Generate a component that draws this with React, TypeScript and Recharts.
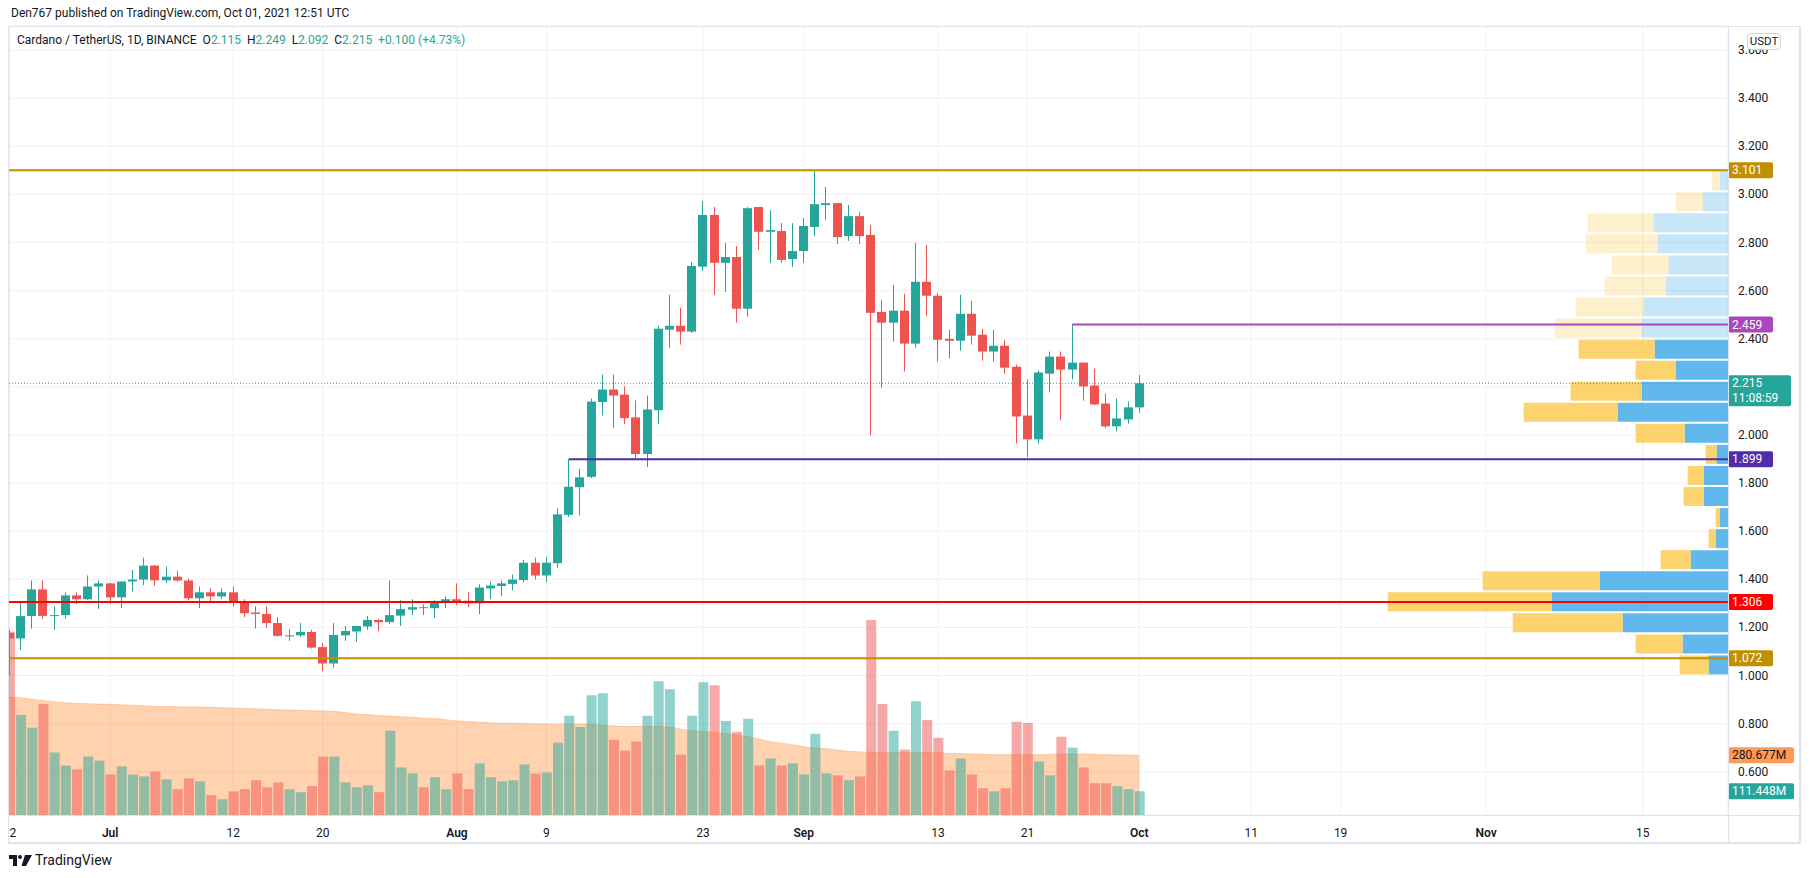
import React from 'react';
import { ComposedChart, Bar, Area, XAxis, YAxis, CartesianGrid, ReferenceLine, Cell } from 'recharts';

const FONT = "Roboto, 'Noto Sans', Arial, sans-serif";
const TEXT = '#131722';
const UP = '#26a69a';
const DOWN = '#ef5350';

// ---- Daily candles Jun 22 .. Oct 1, 2021 (day index 0 = Jul 1) ----
const firstDay = -9;
const open = [1.176, 1.154, 1.247, 1.358, 1.248, 1.251, 1.333, 1.317, 1.370,
  1.383, 1.325, 1.391, 1.399, 1.457, 1.396, 1.411, 1.395, 1.321, 1.346, 1.329, 1.346, 1.306, 1.262, 1.256, 1.218, 1.165, 1.167, 1.181, 1.118, 1.050, 1.167, 1.183, 1.204, 1.231, 1.222, 1.249, 1.274, 1.284, 1.280, 1.307,
  1.317, 1.311, 1.300, 1.362, 1.372, 1.381, 1.397, 1.469, 1.416, 1.467, 1.668, 1.783, 1.826, 2.137, 2.189, 2.168, 2.073, 1.921, 2.103, 2.438, 2.454, 2.430, 2.700, 2.915, 2.716, 2.740, 2.525, 2.948, 2.845, 2.848, 2.732,
  2.765, 2.865, 2.956, 2.964, 2.827, 2.910, 2.832, 2.512, 2.467, 2.517, 2.380, 2.637, 2.579, 2.400, 2.392, 2.504, 2.417, 2.347, 2.371, 2.284, 2.081, 1.982, 2.255, 2.326, 2.272, 2.301, 2.206, 2.131, 2.036, 2.065,
  2.115];
const high = [1.190, 1.309, 1.395, 1.395, 1.288, 1.346, 1.346, 1.416, 1.395,
  1.385, 1.392, 1.440, 1.490, 1.459, 1.453, 1.436, 1.403, 1.370, 1.362, 1.362, 1.370, 1.317, 1.288, 1.288, 1.243, 1.192, 1.218, 1.190, 1.136, 1.218, 1.206, 1.206, 1.247, 1.235, 1.395, 1.313, 1.317, 1.296, 1.313, 1.329,
  1.383, 1.346, 1.379, 1.391, 1.395, 1.420, 1.481, 1.490, 1.494, 1.695, 1.899, 1.859, 2.152, 2.251, 2.251, 2.202, 2.144, 2.164, 2.454, 2.583, 2.529, 2.720, 2.973, 2.948, 2.798, 2.786, 2.948, 2.948, 2.935, 2.881, 2.881,
  2.902, 3.101, 3.031, 2.964, 2.956, 2.927, 2.873, 2.562, 2.624, 2.587, 2.798, 2.790, 2.591, 2.438, 2.583, 2.558, 2.442, 2.438, 2.396, 2.293, 2.231, 2.268, 2.347, 2.347, 2.459, 2.301, 2.276, 2.173, 2.152, 2.139,
  2.249];
const low = [1.000, 1.106, 1.195, 1.236, 1.190, 1.236, 1.298, 1.313, 1.277,
  1.298, 1.280, 1.350, 1.376, 1.372, 1.384, 1.391, 1.313, 1.280, 1.309, 1.317, 1.287, 1.243, 1.195, 1.198, 1.161, 1.144, 1.161, 1.112, 1.018, 1.033, 1.144, 1.140, 1.190, 1.185, 1.214, 1.206, 1.251, 1.251, 1.239, 1.280,
  1.292, 1.284, 1.255, 1.317, 1.329, 1.354, 1.387, 1.399, 1.387, 1.448, 1.658, 1.666, 1.821, 2.081, 2.029, 2.045, 1.902, 1.867, 2.045, 2.363, 2.376, 2.425, 2.682, 2.583, 2.595, 2.467, 2.492, 2.769, 2.716, 2.716, 2.699,
  2.716, 2.827, 2.894, 2.794, 2.807, 2.794, 1.998, 2.197, 2.388, 2.264, 2.363, 2.496, 2.305, 2.318, 2.351, 2.376, 2.309, 2.305, 2.255, 1.965, 1.907, 1.965, 2.177, 2.061, 2.231, 2.143, 2.123, 2.028, 2.015, 2.048,
  2.092];
const close = [1.154, 1.247, 1.358, 1.248, 1.251, 1.333, 1.317, 1.370, 1.383,
  1.325, 1.391, 1.399, 1.457, 1.396, 1.411, 1.395, 1.321, 1.346, 1.329, 1.346, 1.306, 1.259, 1.256, 1.218, 1.165, 1.167, 1.181, 1.116, 1.050, 1.169, 1.185, 1.206, 1.231, 1.222, 1.251, 1.276, 1.284, 1.280, 1.309, 1.317,
  1.309, 1.300, 1.366, 1.374, 1.383, 1.399, 1.469, 1.416, 1.469, 1.670, 1.785, 1.824, 2.139, 2.189, 2.164, 2.070, 1.921, 2.106, 2.442, 2.454, 2.430, 2.703, 2.915, 2.716, 2.740, 2.525, 2.943, 2.845, 2.852, 2.728, 2.765,
  2.869, 2.960, 2.964, 2.823, 2.910, 2.827, 2.508, 2.467, 2.517, 2.380, 2.637, 2.579, 2.396, 2.392, 2.504, 2.413, 2.347, 2.371, 2.280, 2.077, 1.982, 2.260, 2.326, 2.272, 2.301, 2.202, 2.127, 2.036, 2.069, 2.115,
  2.215];
// volume in millions of ADA
const volume = [859, 469, 409, 520, 293, 232, 214, 274, 255,
  190, 228, 190, 181, 204, 167, 121, 172, 158, 93, 74, 111, 121, 163, 130, 153, 121, 107, 135, 274, 274, 153, 130, 139, 107, 395, 223, 195, 130, 177, 121,
  195, 121, 242, 177, 158, 163, 237, 195, 200, 339, 465, 413, 562, 571, 353, 302, 344, 465, 627, 590, 283, 465, 622, 608, 441, 390, 451, 232, 265, 232, 242,
  190, 381, 195, 186, 163, 181, 915, 520, 395, 307, 534, 446, 362, 209, 265, 190, 125, 111, 125, 437, 432, 251, 186, 367, 316, 223, 149, 149, 135, 121,
  111.448];
const volumeMA = [553, 550, 543, 537, 531, 526, 523, 522, 520,
  519, 517, 515, 512, 509, 509, 508, 506, 506, 505, 503, 502, 500, 498, 495, 494, 492, 491, 489, 488, 486, 481, 474, 471, 467, 464, 461, 458, 454, 452, 447,
  441, 438, 435, 432, 430, 429, 429, 427, 427, 426, 426, 427, 426, 421, 418, 416, 416, 415, 415, 413, 402, 396, 392, 387, 382, 376, 367, 356, 345, 337, 330,
  320, 314, 311, 305, 299, 296, 294, 294, 294, 294, 294, 293, 293, 289, 288, 286, 285, 283, 283, 283, 283, 283, 285, 285, 286, 286, 285, 283, 282, 281,
  280.677];

// ---- Volume profile (visible range), 24 rows, bottom to top ----
const vpLow = 1.0;
const vpHigh = 3.101;
const vpUp = [58, 136, 316, 529, 385, 112, 37, 25, 73, 73, 34, 130, 331, 259, 157, 220, 259, 254, 187, 178, 211, 223, 76, 25];
const vpDown = [87, 141, 330, 492, 351, 90, 21, 12, 60, 48, 33, 147, 282, 213, 120, 228, 261, 203, 183, 171, 216, 198, 81, 24];
const vpValueAreaTop = 15; // rows 0..15 inside the value area

// ---- Axes ----
const dateTicks = [-9, 0, 11, 19, 31, 39, 53, 62, 74, 82, 92, 102, 110, 123, 137];
const dateTickLabels = ['22', 'Jul', '12', '20', 'Aug', '9', '23', 'Sep', '13', '21', 'Oct', '11', '19', 'Nov', '15'];
const monthLabels = ['Jul', 'Aug', 'Sep', 'Oct', 'Nov'];
const priceTicks = [0.6, 0.8, 1.0, 1.2, 1.4, 1.6, 1.8, 2.0, 2.2, 2.4, 2.6, 2.8, 3.0, 3.2, 3.4, 3.6];
const xDomain: [number, number] = [-9.047, 144.63];
const priceDomain: [number, number] = [0.42, 3.7006];
const volDomain: [number, number] = [0, 3700];
const vpDomain: [number, number] = [0, 5157];

// ---- Horizontal levels ----
const levelTop = 3.101;
const levelResistance = 2.459;
const levelResistanceFrom = 86;
const levelSupport = 1.899;
const levelSupportFrom = 41;
const levelRed = 1.306;
const levelBottom = 1.072;
const lastPrice = 2.215;
const lastVolMA = 280.677;
const lastVolume = 111.448;

const candles = open.map((o, i) => ({
  t: i + firstDay,
  open: o,
  high: high[i],
  low: low[i],
  close: close[i],
  vol: volume[i],
  ma: volumeMA[i],
  up: close[i] >= o,
}));

const vpStep = (vpHigh - vpLow) / vpUp.length;
const vpRows = vpUp.map((u, i) => ({
  price: vpLow + vpStep * (i + 0.5),
  up: u,
  down: vpDown[i],
  va: i <= vpValueAreaTop,
}));

const W = 1810;
const H = 878;
const marginAxes = { top: 26, left: 9, right: W - 1800, bottom: H - 843 };
const marginPlot = { top: 26, left: 9, right: W - 1728, bottom: H - 815 };

const Candle = (props: any) => {
  const { x, width, payload } = props;
  let { y, height } = props;
  if (x == null || y == null || !payload) return null;
  if (height < 0) { y += height; height = -height; }
  const { open: o, close: c, high: h, low: l } = payload;
  const color = c >= o ? UP : DOWN;
  const py = (p: number) => y + ((h - p) / (h - l)) * height;
  const cx = Math.round(x + width / 2 - 0.5);
  const top = py(Math.max(o, c));
  const bot = py(Math.min(o, c));
  return (
    <g>
      <line x1={cx + 0.5} x2={cx + 0.5} y1={y} y2={y + height} stroke={color} strokeWidth={1} />
      <rect x={cx - 4} y={top} width={9} height={Math.max(1, bot - top)} fill={color} />
    </g>
  );
};

const PriceTag = ({ viewBox, text, bg, color = '#ffffff', w = 45, sub }: any) => {
  if (!viewBox) return null;
  const x0 = viewBox.x + viewBox.width;
  const yc = viewBox.y;
  const h = sub ? 31 : 16;
  return (
    <g>
      <rect x={x0} y={yc - 8} width={w} height={h} rx={2} ry={2} fill={bg} />
      <text x={x0 + 4} y={yc + 4} fill={color} fontSize={12} fontFamily={FONT}>{text}</text>
      {sub ? <text x={x0 + 4} y={yc + 19} fill={color} fontSize={12} fontFamily={FONT}>{sub}</text> : null}
    </g>
  );
};

const XTick = (props: any) => {
  const { x, y, payload } = props;
  const idx = dateTicks.indexOf(payload.value);
  const label = idx >= 0 ? dateTickLabels[idx] : '';
  const bold = monthLabels.includes(label);
  return (
    <text x={x} y={y + 14} textAnchor="middle" fill={TEXT} fontSize={12} fontFamily={FONT} fontWeight={bold ? 600 : 400}>{label}</text>
  );
};

// price labels hidden behind the last-price tag are not drawn
const YTick = (props: any) => {
  const { x, y, payload } = props;
  const v = payload.value;
  if (Math.abs(v - lastPrice) < 0.05) return null;
  return (
    <text x={x} y={y + 4} textAnchor="start" fill={TEXT} fontSize={12} fontFamily={FONT}>{v.toFixed(3)}</text>
  );
};

const upFill = 'rgba(38,166,154,0.5)';
const downFill = 'rgba(239,83,80,0.5)';

export default function App() {
  const abs = (extra: any) => ({ position: 'absolute' as const, ...extra });
  return (
    <div style={{ position: 'absolute', left: 0, top: 0, width: W, height: H, background: '#fff', overflow: 'hidden', fontFamily: FONT, color: TEXT }}>
      <div style={abs({ left: 11, top: 6, fontSize: 12, whiteSpace: 'pre', color: '#131722' })}>
        Den767 published on TradingView.com, Oct 01, 2021 12:51 UTC
      </div>

      {/* Layer 1: grid, axes, volume */}
      <div style={abs({ left: 0, top: 0 })}>
        <ComposedChart width={W} height={H} data={candles} margin={marginAxes}>
          <CartesianGrid stroke="#f0f1f4" strokeWidth={1} />
          <XAxis type="number" dataKey="t" domain={xDomain} allowDataOverflow ticks={dateTicks} interval={0}
            tickLine={false} axisLine={false} height={28} tick={<XTick />} />
          <YAxis orientation="right" type="number" domain={priceDomain} allowDataOverflow ticks={priceTicks} interval={0}
            tickLine={false} axisLine={false} width={72} tickSize={0} tickMargin={10}
            tick={<YTick />} />
          <YAxis yAxisId="vol" hide type="number" domain={volDomain} allowDataOverflow />
          <Bar yAxisId="vol" dataKey="vol" barSize={10} isAnimationActive={false}>
            {candles.map((c, i) => <Cell key={i} fill={c.up ? upFill : downFill} />)}
          </Bar>
          <Area yAxisId="vol" dataKey="ma" type="monotone" fill="#ff7f1e" fillOpacity={0.35} stroke="#ff8f40" strokeOpacity={0.35}
            strokeWidth={1} dot={false} activeDot={false} isAnimationActive={false} />
          <ReferenceLine yAxisId="vol" y={lastVolMA} stroke="none" strokeOpacity={0} ifOverflow="visible"
            label={(p: any) => <PriceTag viewBox={p.viewBox} text="280.677M" bg="#ff9a55" color={TEXT} w={66} />} />
          <ReferenceLine yAxisId="vol" y={lastVolume} stroke="none" strokeOpacity={0} ifOverflow="visible"
            label={(p: any) => <PriceTag viewBox={p.viewBox} text="111.448M" bg={UP} w={66} />} />
        </ComposedChart>
      </div>

      {/* Layer 2: visible range volume profile */}
      <div style={abs({ left: 0, top: 0 })}>
        <ComposedChart layout="vertical" width={W} height={H} data={vpRows} margin={marginPlot}>
          <XAxis type="number" hide domain={vpDomain} reversed allowDataOverflow />
          <YAxis type="number" dataKey="price" hide domain={priceDomain} reversed allowDataOverflow />
          <Bar dataKey="up" stackId="vp" barSize={19} isAnimationActive={false}>
            {vpRows.map((r, i) => <Cell key={i} fill={r.va ? 'rgba(21,150,227,0.68)' : 'rgba(21,150,227,0.24)'} />)}
          </Bar>
          <Bar dataKey="down" stackId="vp" barSize={19} isAnimationActive={false}>
            {vpRows.map((r, i) => <Cell key={i} fill={r.va ? 'rgba(251,192,45,0.7)' : 'rgba(251,192,45,0.24)'} />)}
          </Bar>
        </ComposedChart>
      </div>

      {/* Layer 3: candles and levels */}
      <div style={abs({ left: 0, top: 0 })}>
        <ComposedChart width={W} height={H} data={candles} margin={marginPlot}>
          <XAxis type="number" dataKey="t" hide domain={xDomain} allowDataOverflow />
          <YAxis type="number" hide domain={priceDomain} allowDataOverflow />
          <Bar dataKey={(d: any) => [d.low, d.high]} barSize={9} shape={(p: any) => <Candle {...p} />} isAnimationActive={false} />
          <ReferenceLine y={lastPrice} stroke={UP} strokeWidth={1} strokeDasharray="1 2" ifOverflow="visible"
            label={(p: any) => <PriceTag viewBox={p.viewBox} text="2.215" sub="11:08:59" bg={UP} w={63} />} />
          <ReferenceLine y={levelTop} stroke="#bf9000" strokeWidth={2} ifOverflow="visible"
            label={(p: any) => <PriceTag viewBox={p.viewBox} text="3.101" bg="#bf9000" />} />
          <ReferenceLine y={levelBottom} stroke="#bf9000" strokeWidth={2} ifOverflow="visible"
            label={(p: any) => <PriceTag viewBox={p.viewBox} text="1.072" bg="#bf9000" />} />
          <ReferenceLine y={levelRed} stroke="#ff0000" strokeWidth={2} ifOverflow="visible"
            label={(p: any) => <PriceTag viewBox={p.viewBox} text="1.306" bg="#ff0000" />} />
          <ReferenceLine segment={[{ x: levelSupportFrom, y: levelSupport }, { x: xDomain[1], y: levelSupport }]} stroke="#512da8" strokeWidth={2} ifOverflow="visible"
            label={(p: any) => <PriceTag viewBox={p.viewBox} text="1.899" bg="#512da8" />} />
          <ReferenceLine segment={[{ x: levelResistanceFrom, y: levelResistance }, { x: xDomain[1], y: levelResistance }]} stroke="#ab47bc" strokeWidth={2} ifOverflow="visible"
            label={(p: any) => <PriceTag viewBox={p.viewBox} text="2.459" bg="#ab47bc" />} />
        </ComposedChart>
      </div>

      {/* frame */}
      <div style={abs({ left: 0, top: 26, width: 9, height: 817, background: '#fff' })} />
      <div style={abs({ left: 8, top: 26, width: 1793, height: 818, border: '1px solid #e0e3eb', borderRightWidth: 2, borderBottomWidth: 2, boxSizing: 'border-box' })} />
      <div style={abs({ left: 1728, top: 26, width: 1, height: 817, background: '#e0e3eb' })} />
      <div style={abs({ left: 9, top: 815, width: 1791, height: 1, background: '#e0e3eb' })} />

      {/* legend */}
      <div style={abs({ left: 17, top: 33, fontSize: 12, whiteSpace: 'pre', color: TEXT })}>
        {'Cardano / TetherUS, 1D, BINANCE  O'}<span style={{ color: UP }}>2.115</span>
        {'  H'}<span style={{ color: UP }}>2.249</span>
        {'  L'}<span style={{ color: UP }}>2.092</span>
        {'  C'}<span style={{ color: UP }}>2.215</span>
        {'  '}<span style={{ color: UP }}>+0.100 (+4.73%)</span>
      </div>

      <div style={abs({ left: 1747, top: 33, width: 34, height: 17, border: '1px solid #d1d4dc', borderRadius: 4, background: '#fff', boxSizing: 'border-box', fontSize: 11.5, lineHeight: '15px', textAlign: 'center', color: TEXT })}>USDT</div>

      {/* TradingView footer */}
      <div style={abs({ left: 9, top: 852, display: 'flex', alignItems: 'center' })}>
        <svg width="23" height="11" viewBox="0 0 23 11">
          <path d="M0 0h8v11h-4v-7h-4z" fill="#131722" />
          <circle cx="11" cy="2" r="2" fill="#131722" />
          <path d="M16 0h7l-6 11h-4.5z" fill="#131722" />
        </svg>
        <span style={{ marginLeft: 3, fontSize: 14, color: '#131722' }}>TradingView</span>
      </div>
    </div>
  );
}
